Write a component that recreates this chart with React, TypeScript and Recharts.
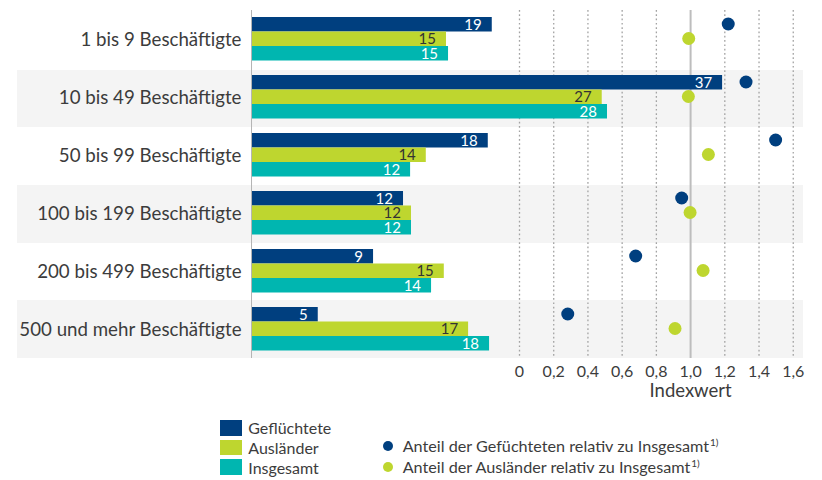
import React from 'react';
import {
  ComposedChart,
  Bar,
  Scatter,
  XAxis,
  YAxis,
  CartesianGrid,
  ReferenceLine,
  LabelList,
} from 'recharts';

// ---------- data ----------
const categories = [
  '1 bis 9 Beschäftigte',
  '10 bis 49 Beschäftigte',
  '50 bis 99 Beschäftigte',
  '100 bis 199 Beschäftigte',
  '200 bis 499 Beschäftigte',
  '500 und mehr Beschäftigte',
];
const gefluechtete = [18.68, 36.59, 18.37, 11.78, 9.45, 5.15];
const auslaender = [15.12, 27.23, 13.55, 12.4, 14.95, 16.84];
const insgesamt = [15.28, 27.64, 12.33, 12.4, 13.96, 18.47];
const indexGefluechtete = [1.22, 1.324, 1.497, 0.948, 0.679, 0.282];
const indexAuslaender = [0.989, 0.987, 1.104, 0.997, 1.073, 0.909];
const indexTicks = [0, 0.2, 0.4, 0.6, 0.8, 1.0, 1.2, 1.4, 1.6];
const seriesNames = ['Geflüchtete', 'Ausländer', 'Insgesamt'];
const dotNames = [
  'Anteil der Gefüchteten relativ zu Insgesamt',
  'Anteil der Ausländer relativ zu Insgesamt',
];
const footnote = '1)';
const axisTitle = 'Indexwert';

const data = categories.map((cat, i) => ({
  cat,
  gef: gefluechtete[i],
  aus: auslaender[i],
  ins: insgesamt[i],
  gefIdx: indexGefluechtete[i],
  ausIdx: indexAuslaender[i],
}));

// ---------- style / layout ----------
const FONT = "Lato, 'Noto Sans', sans-serif";
const C_GEF = '#003f7f';
const C_AUS = '#bed62f';
const C_INS = '#00b6b0';
const C_TEXT = '#3c3c3c';
const C_BAND = '#f4f4f4';

const W = 822;
const H = 480;
const M_TOP = 10;
const Y_AXIS_W = 17;
const M_RIGHT = 19;
const X_AXIS_H = 30;
const PLOT_BOTTOM = 358;
const M_BOTTOM = H - PLOT_BOTTOM - X_AXIS_H;
const BAND_TOP = 12;
const BAND_H = (PLOT_BOTTOM - BAND_TOP) / categories.length;
const BAR_SIZE = 14.5;
const LABEL_RIGHT = 241.5;

const stripePoints = [M_TOP, ...categories.map((_, i) => BAND_TOP + i * BAND_H)];
const stripeFill = ['#ffffff', ...categories.map((_, i) => (i % 2 === 1 ? C_BAND : '#ffffff'))];

const BAR_DOMAIN: [number, number] = [-18.235, 42.88];
const IDX_DOMAIN: [number, number] = [-2.937, 1.657];

const fmtComma = (v: number) => (v === 0 ? '0' : v.toFixed(1).replace('.', ','));

const CatTick = (props: any) => (
  <text
    x={LABEL_RIGHT}
    y={props.y}
    dy="0.4em"
    textAnchor="end"
    fill={C_TEXT}
    fontSize={18.7}
    fontFamily={FONT}
  >
    {props.payload.value}
  </text>
);

const NoLine = (props: any) => <g key={`h-${props.index}`} />;

const VLine = (props: any) => {
  if (props.index >= indexTicks.length) return <g key={`v-${props.index}`} />;
  const solid = props.index === indexTicks.indexOf(1);
  return (
    <line
      key={`v-${props.index}`}
      x1={props.x1}
      x2={props.x2}
      y1={props.y1}
      y2={props.y2}
      stroke={solid ? '#bdbdbd' : '#a3a3a3'}
      strokeWidth={solid ? 2 : 1.3}
      strokeDasharray={solid ? undefined : '1.7 2.6'}
    />
  );
};

const GefDot = (props: any) => (
  <circle cx={props.cx} cy={props.cy - BAR_SIZE - 0.5} r={6.5} fill={C_GEF} />
);
const AusDot = (props: any) => (
  <circle cx={props.cx} cy={props.cy - 0.5} r={6.5} fill={C_AUS} />
);

const round = (v: any) => Math.round(Number(v));

export default function App() {
  const legendColors = [C_GEF, C_AUS, C_INS];
  const dotColors = [C_GEF, C_AUS];
  return (
    <div style={{ position: 'absolute', left: 0, top: 0, width: W, height: H, fontFamily: FONT }}>
      <ComposedChart
        width={W}
        height={H}
        data={data}
        layout="vertical"
        barGap={0}
        margin={{ top: M_TOP, right: M_RIGHT, bottom: M_BOTTOM, left: 0 }}
      >
        <CartesianGrid
          xAxisId="idx"
          horizontal={NoLine}
          vertical={VLine}
          syncWithTicks
          horizontalPoints={stripePoints}
          horizontalFill={stripeFill}
          fillOpacity={1}
        />
        <XAxis
          xAxisId="idx"
          type="number"
          domain={IDX_DOMAIN}
          allowDataOverflow
          ticks={indexTicks}
          tickFormatter={fmtComma}
          axisLine={false}
          tickLine={false}
          tickMargin={2}
          height={X_AXIS_H}
          interval={0}
          tick={{ fill: C_TEXT, fontSize: 16, fontFamily: FONT }}
        />
        <XAxis xAxisId="bar" type="number" domain={BAR_DOMAIN} allowDataOverflow hide height={0} />
        <YAxis
          type="category"
          dataKey="cat"
          width={Y_AXIS_W}
          axisLine={false}
          tickLine={false}
          interval={0}
          tick={CatTick}
        />
        <Bar dataKey="gef" xAxisId="bar" fill={C_GEF} barSize={BAR_SIZE} isAnimationActive={false}>
          <LabelList
            dataKey="gef"
            position="insideRight"
            offset={10}
            formatter={round}
            fill="#ffffff"
            fontSize={15}
            fontFamily={FONT}
          />
        </Bar>
        <Bar dataKey="aus" xAxisId="bar" fill={C_AUS} barSize={BAR_SIZE} isAnimationActive={false}>
          <LabelList
            dataKey="aus"
            position="insideRight"
            offset={10}
            formatter={round}
            fill="#333333"
            fontSize={15}
            fontFamily={FONT}
          />
        </Bar>
        <Bar dataKey="ins" xAxisId="bar" fill={C_INS} barSize={BAR_SIZE} isAnimationActive={false}>
          <LabelList
            dataKey="ins"
            position="insideRight"
            offset={10}
            formatter={round}
            fill="#ffffff"
            fontSize={15}
            fontFamily={FONT}
          />
        </Bar>
        <ReferenceLine xAxisId="bar" x={0} stroke="#b4b4b4" strokeWidth={1} />
        <ReferenceLine
          xAxisId="idx"
          x={1}
          stroke="none"
          label={{
            value: axisTitle,
            position: 'bottom',
            offset: 26,
            fill: C_TEXT,
            fontSize: 18.5,
            fontFamily: FONT,
          }}
        />
        <Scatter dataKey="gefIdx" xAxisId="idx" fill={C_GEF} shape={GefDot} isAnimationActive={false} />
        <Scatter dataKey="ausIdx" xAxisId="idx" fill={C_AUS} shape={AusDot} isAnimationActive={false} />
      </ComposedChart>

      {seriesNames.map((name, i) => (
        <div
          key={name}
          style={{
            position: 'absolute',
            left: 220,
            top: 418.2 + i * 19.6,
            height: 19.6,
            display: 'flex',
            alignItems: 'center',
            fontSize: 16,
            color: C_TEXT,
            whiteSpace: 'nowrap',
          }}
        >
          <span
            style={{
              display: 'inline-block',
              width: 21.7,
              height: 15.5,
              background: legendColors[i],
              marginRight: 6.6,
            }}
          />
          <span>{name}</span>
        </div>
      ))}
      {dotNames.map((name, i) => (
        <div
          key={name}
          style={{
            position: 'absolute',
            left: 383,
            top: 436.2 + i * 21,
            height: 19.6,
            display: 'flex',
            alignItems: 'center',
            fontSize: 16.2,
            color: C_TEXT,
            whiteSpace: 'nowrap',
          }}
        >
          <span
            style={{
              display: 'inline-block',
              width: 10,
              height: 10,
              borderRadius: 5,
              background: dotColors[i],
              marginRight: 9.7,
            }}
          />
          <span>
            {name}
            <span style={{ fontSize: 10, position: 'relative', top: -6, marginLeft: 1 }}>{footnote}</span>
          </span>
        </div>
      ))}
    </div>
  );
}
